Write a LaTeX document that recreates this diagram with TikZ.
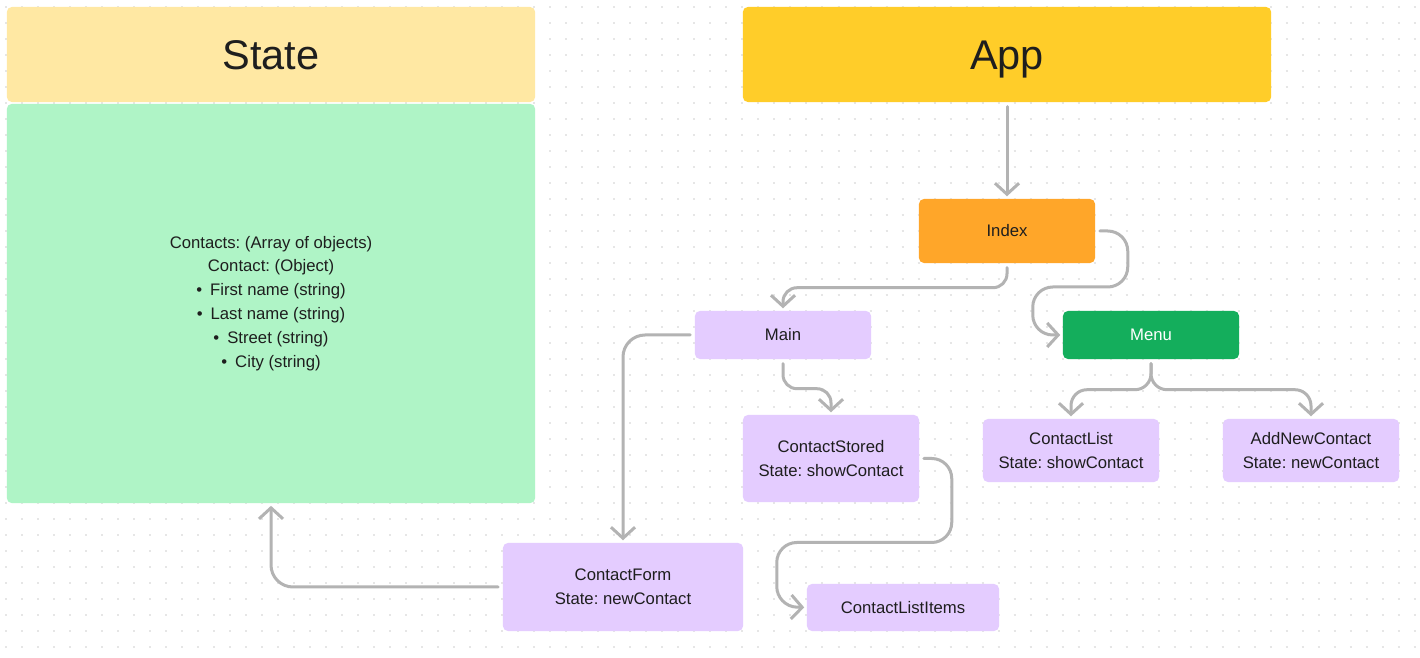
\documentclass[tikz,border=0pt]{standalone}
\usepackage{fontspec}
\setmainfont{Liberation Sans}
\usetikzlibrary{arrows.meta}
\definecolor{stateyellow}{HTML}{FFE8A3}
\definecolor{stategreen}{HTML}{AFF4C6}
\definecolor{appyellow}{HTML}{FFCD29}
\definecolor{indexorange}{HTML}{FFA629}
\definecolor{menugreen}{HTML}{14AE5C}
\definecolor{lilac}{HTML}{E4CCFF}
\definecolor{linkgray}{HTML}{B3B3B3}
\definecolor{dotgray}{HTML}{E6E6E6}
\definecolor{textdark}{HTML}{1E1E1E}
\frenchspacing

\begin{document}
\begin{tikzpicture}[x=0.01cm,y=-0.01cm,
  box/.style={rectangle, rounded corners=0.05cm, inner sep=0pt, align=center,
    text=textdark, font=\fontsize{4.75}{6.8}\selectfont},
  title/.style={box, minimum width=5.28cm, minimum height=0.95cm,
    text height=0.3cm, text depth=0pt, font=\fontsize{11.8}{14}\selectfont},
  comp/.style={box, fill=lilac, minimum width=1.76cm},
  link/.style={draw=linkgray, line width=0.03cm, line cap=round,
    -{Straight Barb[length=0.11cm,width=0.24cm]},
    shorten <=0.04cm, shorten >=0.02cm}]
\useasboundingbox[fill=white] (0,0) rectangle (1420,658);
% dotted canvas
\foreach \j in {0,...,40}
  \draw[dotgray, line width=0.02cm, dash pattern=on 0.02cm off 0.14cm]
    (5,7+16*\j) -- (1420,7+16*\j);

\node[title, fill=stateyellow] (state) at (271,54.5) {State};
\node[box, fill=stategreen, minimum width=5.28cm, minimum height=3.99cm] (contacts) at (271,303.5)
  {Contacts: (Array of objects)\\Contact: (Object)\\
   •\hspace{0.08cm}First name (string)\\•\hspace{0.08cm}Last name (string)\\
   •\hspace{0.08cm}Street (string)\\•\hspace{0.08cm}City (string)};
\node[title, fill=appyellow] (app) at (1007,54.5) {App};
\node[box, fill=indexorange, minimum width=1.76cm, minimum height=0.64cm] (index) at (1007,231) {Index};
\node[box, fill=menugreen, text=white, minimum width=1.76cm, minimum height=0.48cm] (menu) at (1151,335) {Menu};
\node[comp, minimum height=0.48cm] (main) at (783,335) {Main};
\node[comp, minimum height=0.87cm] (stored) at (831,458.5) {ContactStored\\State: showContact};
\node[comp, minimum height=0.63cm] (list) at (1071,450.5) {ContactList\\State: showContact};
\node[comp, minimum height=0.63cm] (addnew) at (1311,450.5) {AddNewContact\\State: newContact};
\node[comp, minimum width=2.4cm, minimum height=0.88cm] (form) at (623,587) {ContactForm\\State: newContact};
\node[comp, minimum width=1.92cm, minimum height=0.47cm] (items) at (903,607.5) {ContactListItems};

\path[link] (app) -- (index);
\path[link, rounded corners=0.14cm] (index.south) -- ++(0,24) -| (main.north);
\path[link, rounded corners=0.2cm] (index.east) -| ++(32,56) -| ++(-95,48) -- (menu.west);
\path[link, rounded corners=0.14cm] (main.south) -- ++(0,29) -| (stored.north);
\path[link, rounded corners=0.22cm] (main.west) -| (form.north);
\path[link, rounded corners=0.2cm] (stored.east) -| ++(32,84) -| ++(-175,64) -- (items.west);
\path[link, rounded corners=0.16cm] (menu.south) -- ++(0,30) -| (list.north);
\path[link, rounded corners=0.16cm] (menu.south) -- ++(0,30) -| (addnew.north);
\path[link, rounded corners=0.22cm] (form.west) -| (contacts.south);
\end{tikzpicture}
\end{document}
